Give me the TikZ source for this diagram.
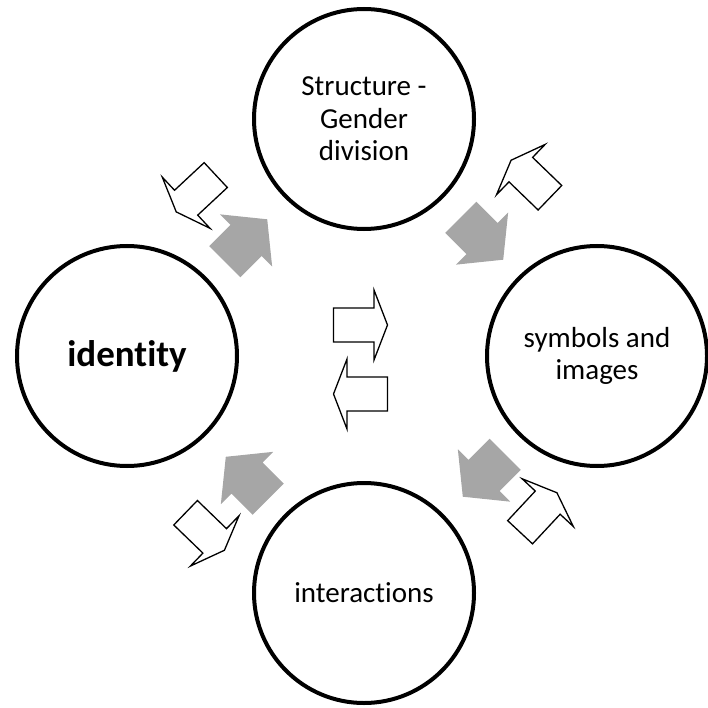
\documentclass[tikz,border=0pt]{standalone}
\usepackage{fontspec}
\setmainfont{Carlito}[Ligatures={NoCommon}]
\usetikzlibrary{calc}
\definecolor{flowgray}{RGB}{166,166,166}
\tikzset{
  stage/.style={circle, draw=black, line width=4pt, minimum size=220pt,
    inner sep=0pt, align=center, font=\fontsize{29}{32.5}\selectfont},
  % filled arrow: clockwise flow between stages
  flowfwd/.pic={\fill[flowgray] (-30,-22) -- (0,-22) -- (0,-37) -- (30,0)
      -- (0,37) -- (0,22) -- (-30,22) -- cycle;},
  % outlined arrow: counter-clockwise flow
  flowback/.pic={\draw[line width=1.3pt, line join=miter, fill=white]
      (-27,-17) -- (13.5,-17) -- (13.5,-35) -- (27,0) -- (13.5,35)
      -- (13.5,17) -- (-27,17) -- cycle;},
}
\begin{document}
\begin{tikzpicture}[x=1pt,y=-1pt]
\useasboundingbox (0,0) rectangle (707,708);

% the four stages
\node[stage] (top) at (364,119) {Structure -\\Gender\\division};
\node[stage] (right) at (597,356) {symbols and\\images};
\node[stage] (bottom) at (364,593) {interactions};
\node[stage, font=\fontsize{37}{40}\selectfont\bfseries] (left) at (127,356) {identity};

% clockwise filled arrows, halfway between neighbouring stages
\pic[rotate=45]   at ($(left)!0.5!(top)+(0.5,3)$)     {flowfwd};
\pic[rotate=-45]  at ($(top)!0.5!(right)+(1.5,1)$)    {flowfwd};
\pic[rotate=-135] at ($(right)!0.5!(bottom)+(3.5,1)$) {flowfwd};
\pic[rotate=135]  at ($(bottom)!0.5!(left)+(1.5,3.5)$) {flowfwd};

% counter-clockwise outlined arrows, on the outer side
\pic[rotate=223] at ($(left)!0.5!(top)+(-49.5,-44)$)     {flowback};
\pic[rotate=136] at ($(top)!0.5!(right)+(50,-58.5)$)     {flowback};
\pic[rotate=47]  at ($(right)!0.5!(bottom)+(58,38)$)     {flowback};
\pic[rotate=-44] at ($(bottom)!0.5!(left)+(-40.5,57)$)   {flowback};

% centre pair
\coordinate (hub) at (360.5,359.5);
\pic at ($(hub)+(0,-34.5)$) {flowback};
\pic[rotate=180] at ($(hub)+(0,34.5)$) {flowback};
\end{tikzpicture}
\end{document}
